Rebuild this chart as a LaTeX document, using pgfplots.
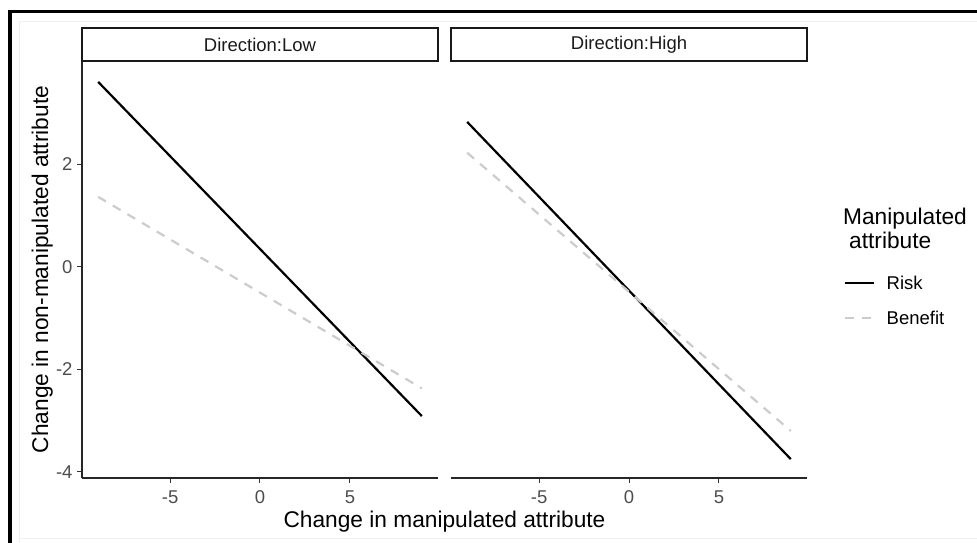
\documentclass[border=0pt]{standalone}
\usepackage{pgfplots}
\pgfplotsset{compat=1.18}
\usepackage{fontspec}
\setmainfont{Liberation Sans}
\definecolor{tickgray}{HTML}{4D4D4D}
\definecolor{stripgray}{HTML}{1A1A1A}
\definecolor{bengray}{HTML}{CCCCCC}
\pgfplotstableread{
x y
-9 3.60
9 -2.91
}\lowrisk
\pgfplotstableread{
x y
-9 1.36
9 -2.37
}\lowbenefit
\pgfplotstableread{
x y
-9 2.82
9 -3.75
}\highrisk
\pgfplotstableread{
x y
-9 2.22
9 -3.20
}\highbenefit
\pgfplotsset{
  panel/.style={
    scale only axis, width=356pt, height=417pt,
    anchor=south west,
    xmin=-9.9, xmax=9.9, ymin=-4.117, ymax=4.007,
    xtick={-5,0,5}, xticklabels={-5,0,5},
    ytick={-4,-2,0,2}, yticklabels={-4,-2,0,2},
    tick align=outside, major tick length=5pt,
    tick style={color=black!80, line width=1pt},
    axis line style={-, line width=1.2pt, color=black!85},
    ticklabel style={font=\fontsize{18.5}{20}\selectfont, text=tickgray},
    xticklabel style={yshift=-4pt},
    yticklabel style={xshift=-1pt},
    clip=false,
  },
  risk/.style={black, line width=2.2pt},
  benefit/.style={bengray, line width=2.2pt, dash pattern=on 9pt off 8pt},
}
\begin{document}
\begin{tikzpicture}[x=1pt,y=1pt]
\path[use as bounding box] (0,0) rectangle (977,543);
\draw[black!6, line width=0.8pt] (19.5,-2) -- (19.5,522) -- (980,522);
\draw[black!6, line width=0.8pt] (19.5,5) -- (980,5);
\fill[black] (8,0) rectangle (11.5,533);
\fill[black] (8,529.5) rectangle (977,533);

\begin{axis}[panel, at={(82pt,65pt)}, axis x line*=bottom, axis y line*=left]
\addplot[risk] table {\lowrisk};
\addplot[benefit] table {\lowbenefit};
\end{axis}

\begin{axis}[panel, at={(451pt,65pt)}, axis x line*=bottom, axis y line=none,
  legend style={draw=none, fill=none, at={(1.102,0.4904)}, anchor=north west,
    font=\fontsize{18.5}{20}\selectfont, row sep=16pt, inner sep=0pt,
    cells={anchor=west}},
  legend cell align=left,
  legend image code/.code={\draw[#1] (0pt,0pt) -- (29pt,0pt);}]
\addplot[risk] table {\highrisk};
\addlegendentry{\hspace{10pt}Risk}
\addplot[benefit] table {\highbenefit};
\addlegendentry{\hspace{10pt}Benefit}
\end{axis}

\draw[line width=1.3pt, black!90] (82,482) rectangle (438,515);
\draw[line width=1.3pt, black!90] (451,482) rectangle (807,515);
\node[text=stripgray, font=\fontsize{18.5}{20}\selectfont] at (260,498.5) {Direction:Low};
\node[text=stripgray, font=\fontsize{18.5}{20}\selectfont] at (629,498.5) {Direction:High};

\node[font=\fontsize{22.7}{26}\selectfont, anchor=base] at (444.5,15) {Change in manipulated attribute};
\node[font=\fontsize{22.7}{26}\selectfont, rotate=90, anchor=base] at (48,273.5) {Change in non-manipulated attribute};

\node[font=\fontsize{22.7}{26}\selectfont, anchor=base west, inner sep=0pt] at (843,318) {Manipulated};
\node[font=\fontsize{22.7}{26}\selectfont, anchor=base west, inner sep=0pt] at (849,294) {attribute};
\end{tikzpicture}
\end{document}
